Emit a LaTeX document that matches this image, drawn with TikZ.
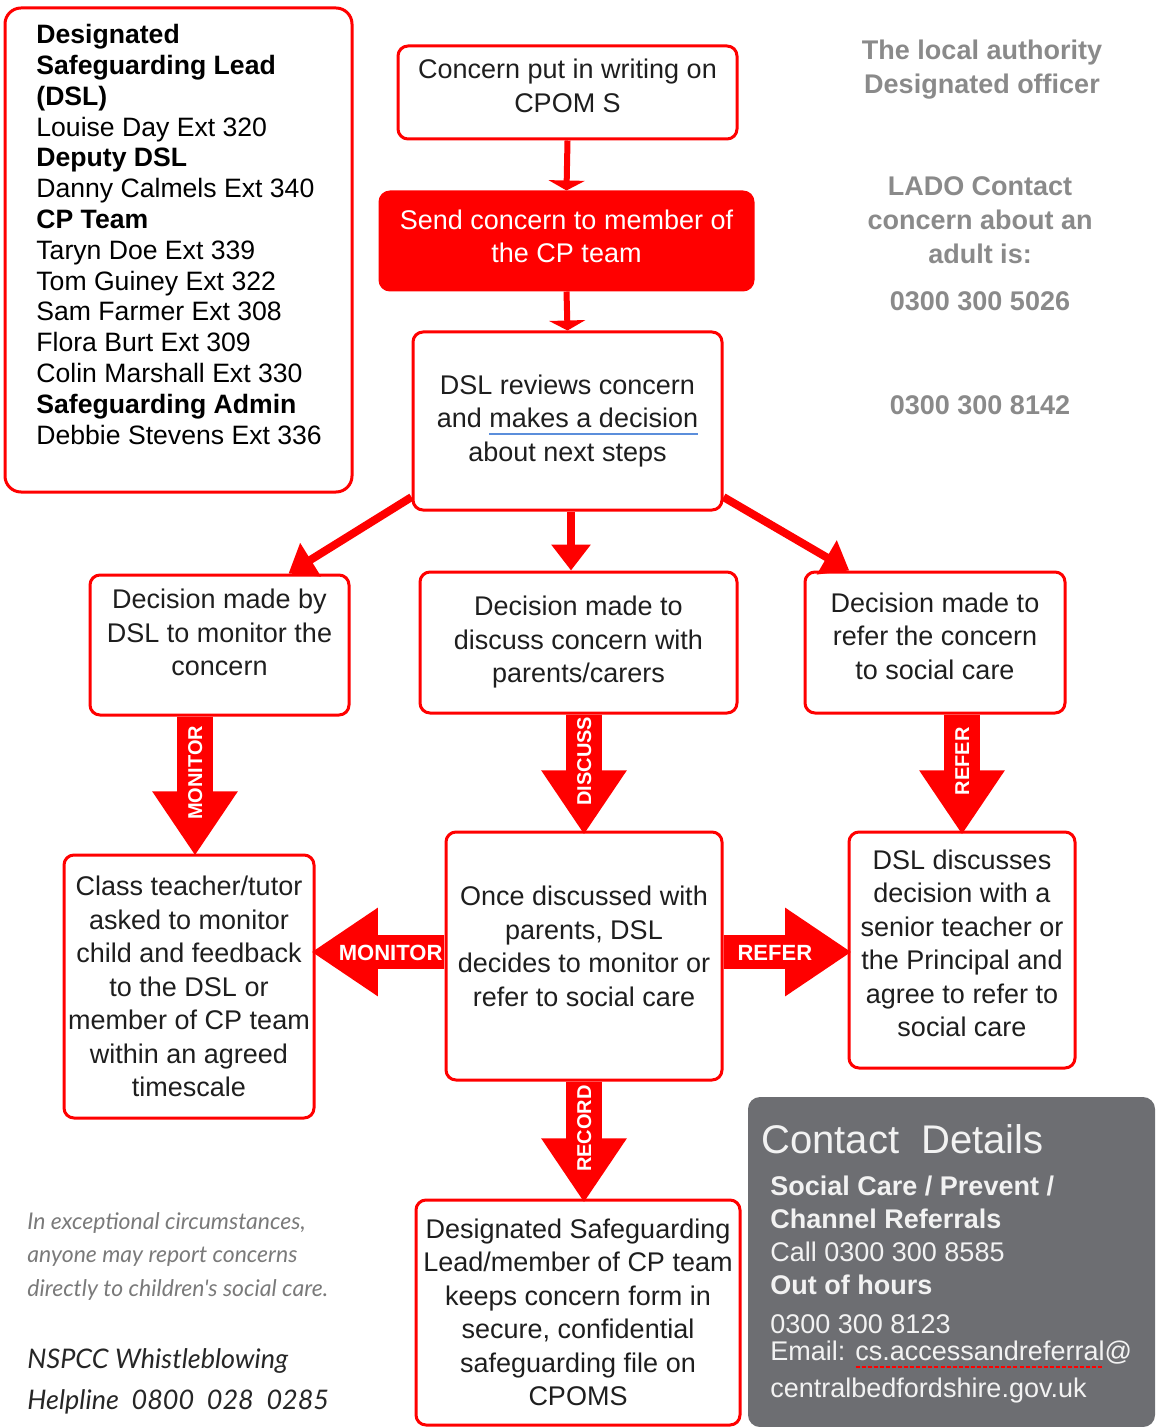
\documentclass[tikz,border=0pt]{standalone}
\usepackage{fontspec}
\setmainfont{Liberation Sans}
\newfontfamily\notefont{Lato}
\usetikzlibrary{shapes,arrows.meta,positioning,calc}

\definecolor{sgred}{HTML}{FF0000}
\definecolor{sgtext}{HTML}{1E1E1E}
\definecolor{sggrey}{HTML}{8A8A8A}
\definecolor{sgpanel}{HTML}{6D6E72}
\definecolor{sgpaneltext}{HTML}{F2F2F2}
\definecolor{sgcheck}{HTML}{5B8EDB}

\newsavebox\markbox
\newcommand\grammarmark[1]{\sbox\markbox{#1}\rlap{\textcolor{sgcheck}{\rule[-0.5ex]{\wd\markbox}{1.3pt}}}\usebox\markbox}
\newcommand\spellmark[1]{\sbox\markbox{#1}\rlap{\textcolor{sgred}{\hbox to \wd\markbox{\xleaders\hbox{\rule[-0.5ex]{2pt}{0.9pt}\kern1pt}\hfil}}}\usebox\markbox}

\tikzset{
  flowbox/.style={rectangle, rounded corners=5pt, draw=sgred, line width=1.5pt, align=center, text=sgtext, inner sep=0pt, font=\fontsize{13.5}{16.75}\selectfont},
  listbox/.style={rectangle, rounded corners=8pt, draw=sgred, line width=1.5pt},
  flowline/.style={draw=sgred, line width=3pt, -{Triangle[width=18pt,length=5pt]}},
  branchline/.style={draw=sgred, line width=4pt, -{Triangle[width=19pt,length=13pt]}},
  blockarrow/.style={single arrow, fill=sgred, draw=none, text=white, inner xsep=0pt, single arrow tip angle=68, anchor=tail},
  downarrow/.style={blockarrow, rotate=90, shape border rotate=180, text height=7pt, text depth=0pt, inner ysep=5.25pt, single arrow head extend=12.5pt, font=\bfseries\fontsize{10}{10}\selectfont},
  sidearrow/.style={blockarrow, text height=8pt, text depth=0pt, inner ysep=4.25pt, single arrow head extend=13.75pt, font=\bfseries\fontsize{11}{11}\selectfont},
  greynote/.style={align=center, text=sggrey, font=\bfseries\fontsize{13.5}{17}\selectfont}
}

\begin{document}
\begin{tikzpicture}[x=0.5pt,y=-0.5pt]
\useasboundingbox (0,0) rectangle (1156,1427);

% who to contact
\node[listbox, minimum width=173.5pt, minimum height=242pt] (staffbox) at (178.5,250) {};
\node[anchor=north west, align=left, inner sep=0pt, text=black, font=\fontsize{13.3}{15.4}\selectfont] (stafflist) at (36,24) {\textbf{Designated}\\ \textbf{Safeguarding Lead}\\ \textbf{(DSL)}\\ Louise Day Ext 320\\ \textbf{Deputy DSL}\\ Danny Calmels Ext 340\\ \textbf{CP Team}\\ Taryn Doe Ext 339\\ Tom Guiney Ext 322\\ Sam Farmer Ext 308\\ Flora Burt Ext 309\\ Colin Marshall Ext 330\\ \textbf{Safeguarding Admin}\\ Debbie Stevens Ext 336};

% main flow
\node[flowbox, minimum width=169.5pt, minimum height=46.5pt] (writing) at (567.5,92.5) {Concern put in writing on\\CPOM S\\[-10pt]~};
\node[flowbox, fill=sgred, text=white, minimum width=186.5pt, minimum height=49pt] (send) at (566.5,241) {Send concern to member of\\the CP team\\[-12pt]~};
\node[flowbox, minimum width=154.5pt, minimum height=89pt] (review) at (567.5,421) {DSL reviews concern\\and \grammarmark{makes a decision}\\about next steps};

\node[flowbox, minimum width=129.5pt, minimum height=70pt] (monitor) at (219.5,645) {Decision made by\\DSL to monitor the\\concern\\[-4pt]~};
\node[flowbox, minimum width=158.5pt, minimum height=70.5pt] (discuss) at (578.5,642.5) {Decision made to\\discuss concern with\\parents/carers};
\node[flowbox, minimum width=130pt, minimum height=70.5pt] (refer) at (935,642.5) {Decision made to\\refer the concern\\to social care\\[-10pt]~};

\node[flowbox, minimum width=125pt, minimum height=131.5pt] (teacher) at (189,986.5) {Class teacher/tutor\\asked to monitor\\child and feedback\\to the DSL or\\member of CP team\\within an agreed\\timescale};
\node[flowbox, minimum width=138pt, minimum height=124pt] (outcome) at (584,956) {Once discussed with\\parents, DSL\\decides to monitor or\\refer to social care\\[-7pt]~};
\node[flowbox, minimum width=113pt, minimum height=118pt] (senior) at (962,950) {DSL discusses\\decision with a\\senior teacher or\\the Principal and\\agree to refer to\\social care\\[-10pt]~};
\node[flowbox, minimum width=162pt, minimum height=112.5pt] (record) at (578,1312.5) {Designated Safeguarding\\Lead/member of CP team\\keeps concern form in\\secure, confidential\\safeguarding file on\\CPOMS};

\draw[flowline] (writing.south) -- (send.north);
\draw[flowline] (send.south) -- (review.north);
\draw[branchline] (review.206) -- (monitor.46);
\draw[branchline] ([xshift=1.75pt]review.south) -- ([xshift=1.75pt]review.south |- discuss.north);
\draw[branchline] (review.334) -- (refer.140);

\node[downarrow, minimum height=69pt] (monitorarrow) at ($(teacher.north |- monitor.south)+(6,0)$) {MONITOR};
\node[downarrow, minimum height=59.5pt] (discussarrow) at (outcome.north |- discuss.south) {DISCUSS};
\node[downarrow, minimum height=59.5pt] (referarrow) at (senior.north |- refer.south) {REFER};
\node[downarrow, minimum height=60pt] (recordarrow) at (outcome.south) {RECORD};
\node[sidearrow, shape border rotate=180, minimum height=66pt] (monitorside) at ($(outcome.west)+(0,-4)$) {MONITOR};
\node[sidearrow, minimum height=63.5pt] (referside) at ($(outcome.east)+(0,-4)$) {REFER};

% local authority officer
\node[greynote] (officer) at (982,70) {The local authority\\Designated officer};
\node[greynote] (lado) at (980,220) {LADO Contact\\concern about an\\adult is:};
\node[greynote] (ladophone) at (980,301) {0300 300 5026};
\node[greynote] (ladophonetwo) at (980,405) {0300 300 8142};

% notes
\node[anchor=west, align=left, inner sep=0pt, text=black!52, font=\notefont\itshape\fontsize{11.5}{16.75}\selectfont] (exception) at (27,1256) {In exceptional circumstances,\\anyone may report concerns\\directly to children's social care.};
\node[anchor=west, align=left, inner sep=0pt, text=black!85, font=\notefont\itshape\fontsize{13.5}{20.5}\selectfont] (nspcc) at (27,1381) {NSPCC Whistleblowing\\Helpline\ \ 0800\ \ 028\ \ 0285};

% contact details panel
\node[rectangle, rounded corners=6pt, fill=sgpanel, minimum width=203.5pt, minimum height=165pt] (contact) at (951.5,1262) {};
\node[anchor=west, inner sep=0pt, text=sgpaneltext, font=\fontsize{20}{24}\selectfont] (contacttitle) at (761,1139) {Contact\ \ Details};
\node[anchor=north west, align=left, inner sep=0pt, text=sgpaneltext, font=\fontsize{13.5}{16.5}\selectfont] (contactlist) at (770,1176) {\textbf{Social Care / Prevent /}\\ \textbf{Channel Referrals}\\ Call 0300 300 8585\\ \textbf{Out of hours}\\[3pt] 0300 300 8123\\[-3pt] Email: \spellmark{cs.accessandreferral}@\\[2pt] centralbedfordshire.gov.uk};
\end{tikzpicture}
\end{document}
